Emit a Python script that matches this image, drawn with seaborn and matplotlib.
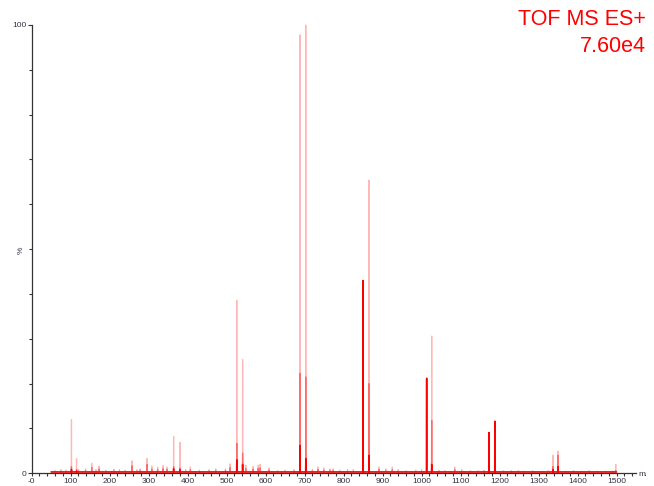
import numpy as np
import pandas as pd
import matplotlib
matplotlib.use("Agg")
import matplotlib.pyplot as plt
from matplotlib.ticker import MultipleLocator, FixedLocator
from matplotlib.transforms import Bbox
import seaborn as sns

# ---- data ----
peak_mz   = [102, 115, 364, 380, 526, 541, 688, 703, 850, 865, 1013, 1026, 1173, 1188, 1337, 1350, 1498]
peak_top  = [12.0, 3.3, 8.2, 6.9, 38.6, 25.4, 97.8, 100.0, 43.0, 65.4, 21.2, 30.6, 9.1, 11.6, 4.0, 4.9, 2.0]
peak_mid  = [1.5, 0.8, 1.5, 1.2, 6.7, 4.5, 22.3, 21.5, 43.0, 20.0, 21.2, 11.8, 9.1, 11.6, 1.5, 4.0, 0.6]
peak_dark = [0.9, 0.5, 1.0, 0.8, 3.0, 2.0, 6.2, 3.3, 43.0, 4.0, 21.2, 2.0, 9.1, 11.6, 0.8, 1.5, 0.3]

noise_mz = [60, 75, 88, 120, 138, 154, 165, 173, 190, 211, 225, 240, 257, 270, 278, 296, 308, 323, 337, 347,
            395, 407, 430, 455, 472, 497, 509, 549, 568, 581, 586, 609, 631, 650, 673, 720, 734, 749, 765, 773,
            790, 810, 825, 891, 908, 925, 940, 960, 985, 1000, 1045, 1060, 1085, 1103, 1125, 1145, 1160, 1210, 1230, 1248,
            1263, 1285, 1309, 1325, 1370, 1390, 1410, 1430, 1450, 1472, 1490]
noise_h = [0.6, 0.8, 0.7, 0.9, 1.0, 2.2, 0.8, 1.6, 0.7, 0.9, 0.8, 0.7, 2.8, 0.8, 1.0, 3.3, 1.6, 1.4, 1.7, 1.4,
           0.8, 1.4, 0.7, 0.8, 1.0, 1.0, 2.1, 1.8, 1.5, 1.8, 2.0, 1.2, 0.6, 0.7, 0.8, 0.9, 1.4, 1.2, 1.0, 1.0,
           0.7, 0.8, 0.8, 1.4, 1.0, 1.4, 0.8, 0.6, 0.7, 0.8, 0.7, 0.6, 1.4, 0.8, 0.6, 0.6, 0.7, 0.6, 0.6, 0.6,
           0.5, 0.6, 0.5, 0.6, 0.5, 0.6, 0.5, 0.6, 0.5, 0.5, 0.5]

baseline_level = 0.3
mz_start, mz_end = 50, 1500
x_tick_values = list(range(0, 1501, 100))
x_tick_labels = ["-0"] + [str(v) for v in range(100, 1501, 100)]
y_tick_values = [0, 100]
y_tick_labels = ["0", "100"]
title_lines = ["TOF MS ES+", "7.60e4"]


def profile(mzs, hs, base):
    pairs = sorted(zip(mzs, hs))
    xs, ys = [mz_start], [base]
    for m, h in pairs:
        xs += [m - 0.4, m, m + 0.4]
        ys += [base, h, base]
    xs.append(mz_end)
    ys.append(base)
    return pd.DataFrame({"mz": xs, "intensity": ys})


light_df = profile(peak_mz + noise_mz, peak_top + noise_h, baseline_level)
mid_df = profile(peak_mz + noise_mz, peak_mid + [h * 0.6 for h in noise_h], baseline_level)
dark_df = profile(peak_mz, peak_dark, baseline_level)

# ---- figure ----
sns.set_style("white")
plt.rcParams["font.family"] = ["Liberation Sans", "DejaVu Sans"]

fig = plt.figure(figsize=(6.54, 4.86), dpi=100)
ax = fig.add_axes([31.7 / 654, (486 - 473.3) / 486, (636 - 31.7) / 654, (473.3 - 25) / 486])

sns.lineplot(data=light_df, x="mz", y="intensity", sort=False, estimator=None,
             color="#ffb8b8", lw=0.9, ax=ax, clip_on=False)
sns.lineplot(data=mid_df, x="mz", y="intensity", sort=False, estimator=None,
             color="#ff6a6a", lw=0.9, ax=ax, clip_on=False)
sns.lineplot(data=dark_df, x="mz", y="intensity", sort=False, estimator=None,
             color="#ff0000", lw=1.1, ax=ax, clip_on=False)

ax.set_xlim(0, 1550)
ax.set_ylim(0, 100)

for s in ["top", "right"]:
    ax.spines[s].set_visible(False)
for s in ["left", "bottom"]:
    ax.spines[s].set_color("#333333")
    ax.spines[s].set_linewidth(0.9)

ax.xaxis.set_major_locator(FixedLocator(x_tick_values))
ax.set_xticklabels(x_tick_labels)
ax.xaxis.set_minor_locator(MultipleLocator(20))
ax.yaxis.set_major_locator(FixedLocator(y_tick_values))
ax.set_yticklabels(y_tick_labels)
ax.yaxis.set_minor_locator(MultipleLocator(10))

ax.tick_params(axis="both", which="both", direction="out", color="#333333",
               labelcolor="#333344", labelsize=6, width=0.8)
ax.tick_params(axis="x", which="major", length=2.5, pad=1.0, bottom=True)
ax.tick_params(axis="x", which="minor", length=2, bottom=True)
ax.tick_params(axis="y", which="major", length=3, pad=1, left=True)
ax.tick_params(axis="y", which="minor", length=2, left=True)

ax.set_xlabel("")
ax.set_ylabel("")
mz_label = fig.text(638 / 654, 1 - 474 / 486, "m/z", fontsize=6, color="#333344",
                    ha="left", va="center")
mz_label.set_clip_box(Bbox.from_extents(0, 0, 646, 486))
mz_label.set_clip_on(True)
fig.text(21.7 / 654, 1 - 250 / 486, "%", fontsize=6, color="#333344", rotation=90,
         ha="center", va="center")

fig.text(646 / 654, 1 - 19.5 / 486, title_lines[0], fontsize=15.5, color="#ff0000",
         ha="right", va="center")
fig.text(646 / 654, 1 - 46 / 486, title_lines[1], fontsize=15.5, color="#ff0000",
         ha="right", va="center")

fig.savefig("out.png", dpi=100)
